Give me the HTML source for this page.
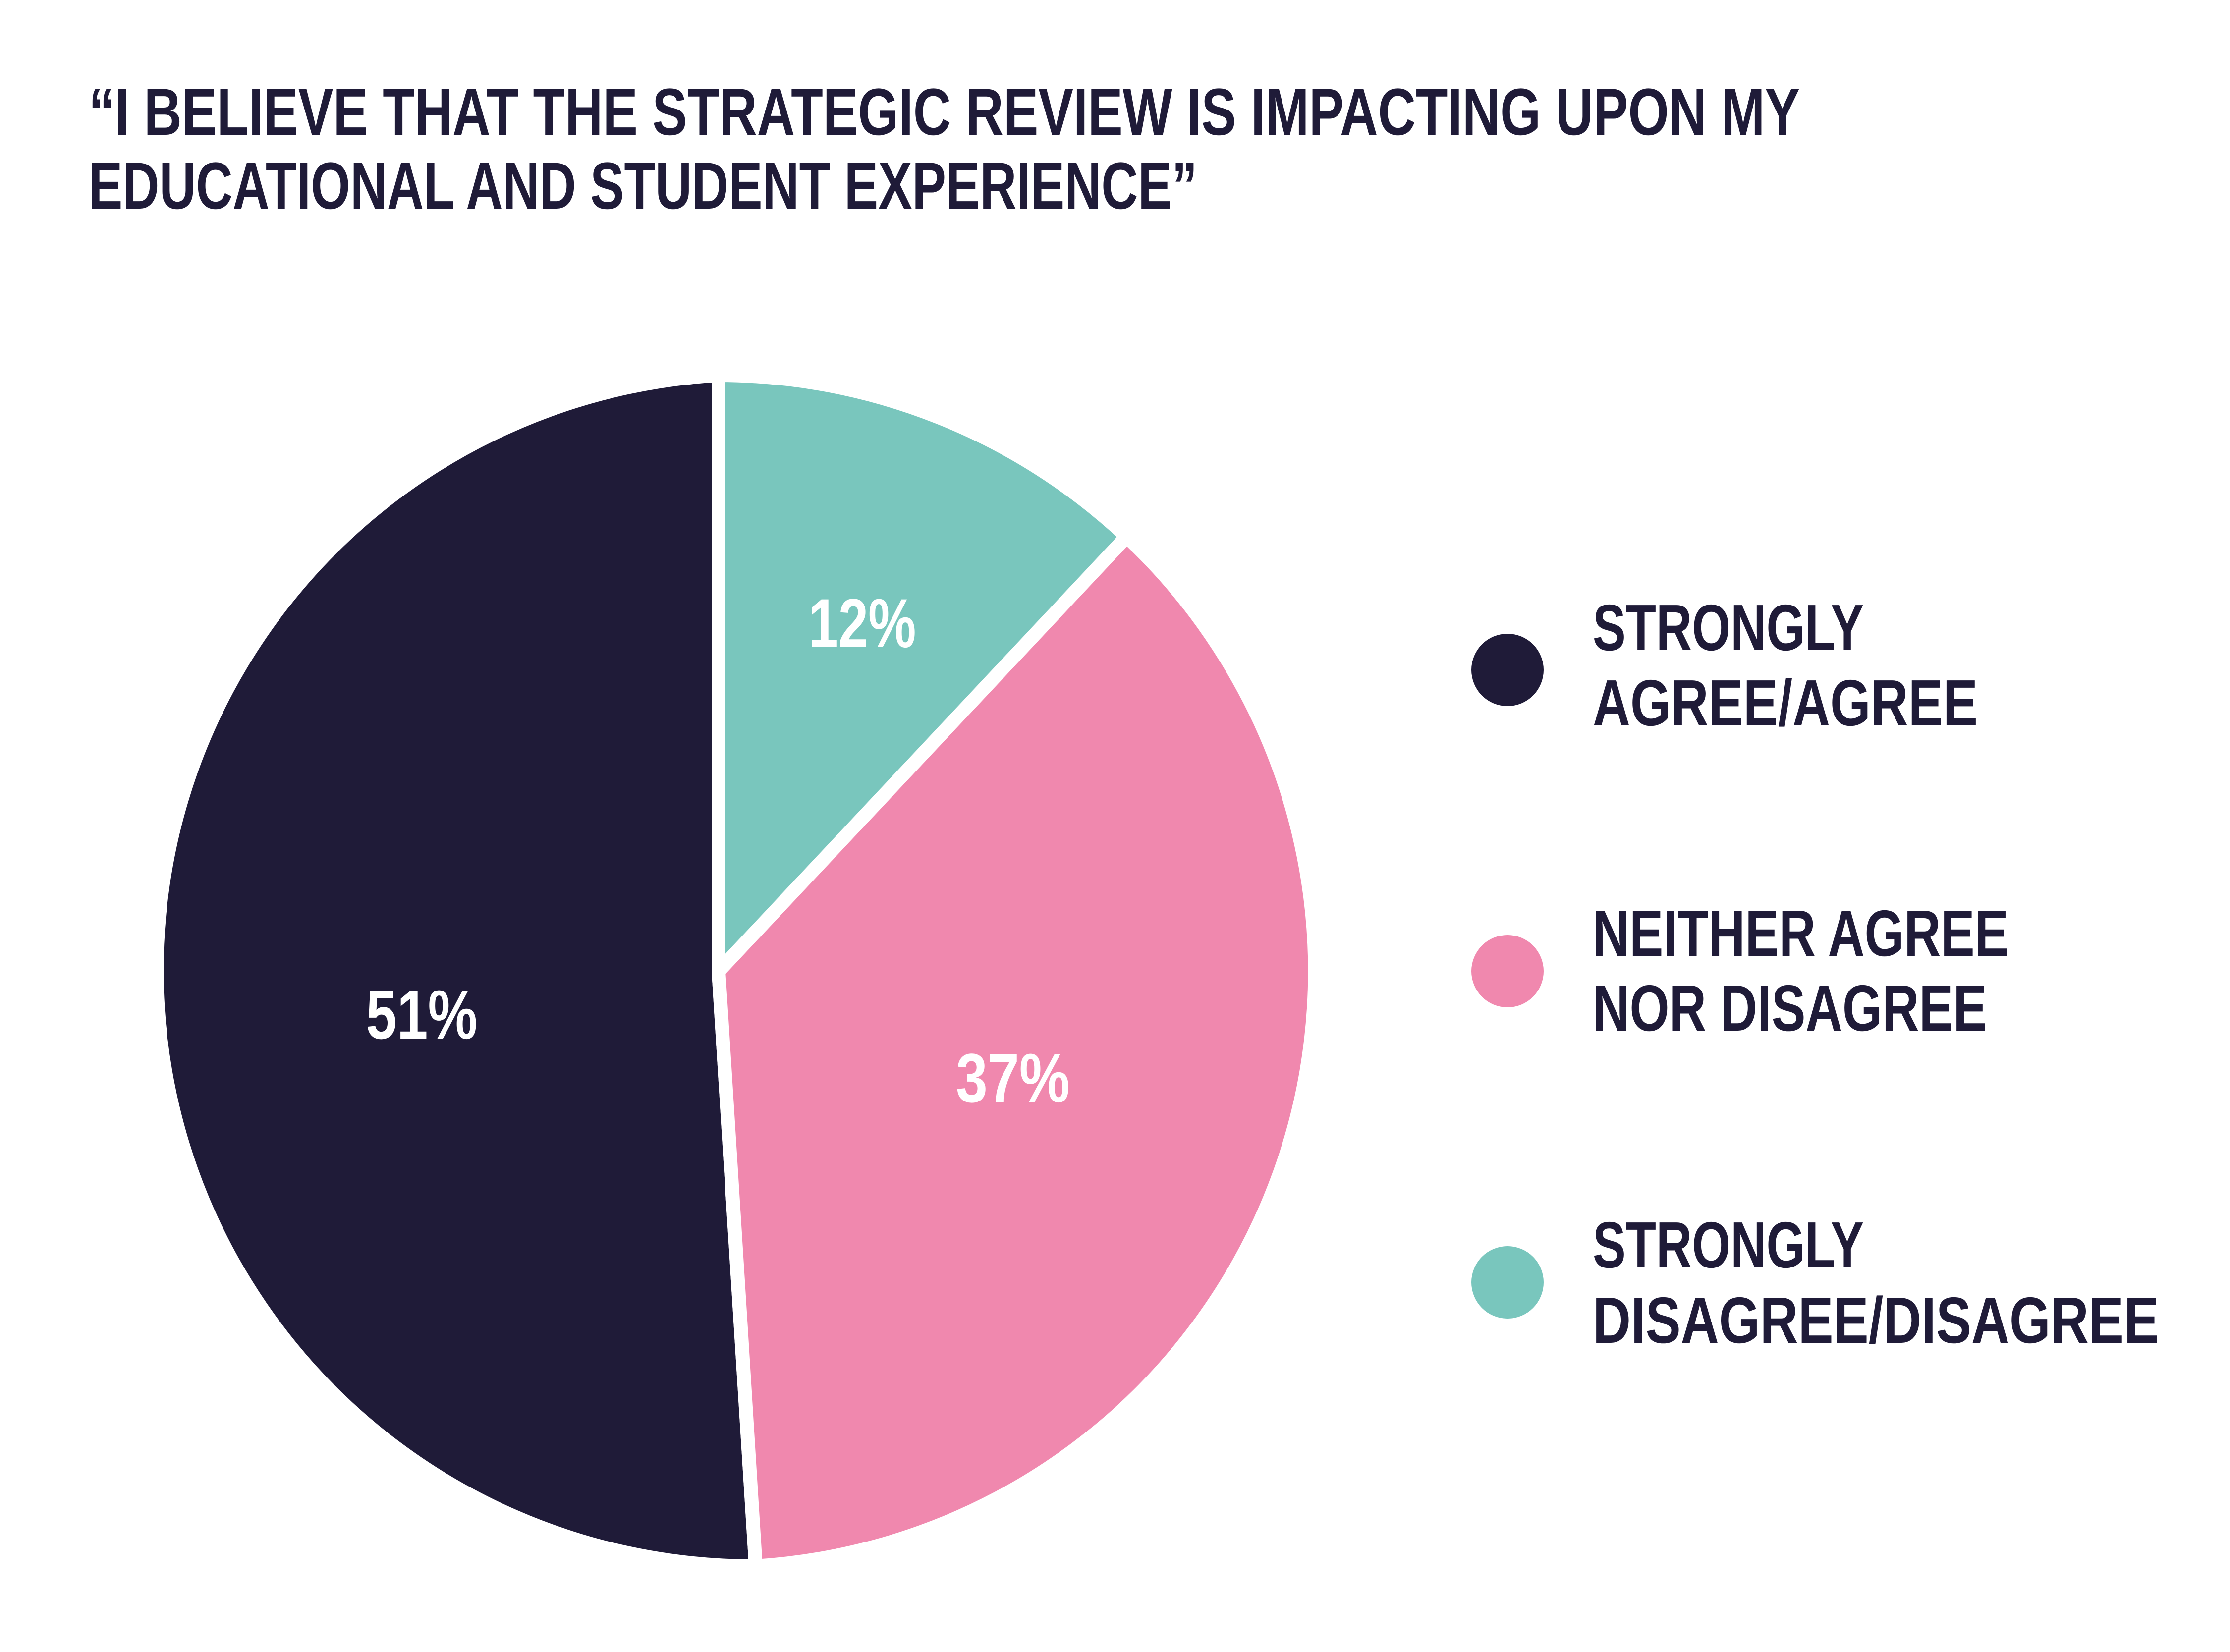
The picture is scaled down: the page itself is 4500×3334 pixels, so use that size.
<!DOCTYPE html>
<html><head><meta charset="utf-8"><style>
html,body{margin:0;padding:0;background:#fff;}
svg{display:block;}
text{font-family:"Liberation Sans",sans-serif;font-weight:bold;}
</style></head><body>
<svg width="4500" height="3334" viewBox="0 0 4500 3334" xmlns="http://www.w3.org/2000/svg">
<rect width="4500" height="3334" fill="#fff"/>
<g fill="#1f1b38">
<text x="179" y="272" font-size="134" textLength="3453" lengthAdjust="spacingAndGlyphs">“I BELIEVE THAT THE STRATEGIC REVIEW IS IMPACTING UPON MY</text>
<text x="179" y="421" font-size="134" textLength="2237" lengthAdjust="spacingAndGlyphs">EDUCATIONAL AND STUDENT EXPERIENCE”</text>
</g>
<g stroke="#fff" stroke-width="28" stroke-linejoin="round">
<path d="M1450,1960 L1525,3161 A1203,1203 0 0 1 1450,757 Z" fill="#1f1b38"/>
<path d="M1450,1960 L2273.5,1083 A1203,1203 0 0 1 1525,3161 Z" fill="#f088ae"/>
<path d="M1450,1960 L1450,757 A1203,1203 0 0 1 2273.5,1083 Z" fill="#79c6bd"/>
</g>
<g fill="#fff" font-size="140" text-anchor="middle">
<text x="1740" y="1306" textLength="217" lengthAdjust="spacingAndGlyphs">12%</text>
<text x="851" y="2096" textLength="225" lengthAdjust="spacingAndGlyphs">51%</text>
<text x="2044" y="2224" textLength="230" lengthAdjust="spacingAndGlyphs">37%</text>
</g>
<circle cx="3042" cy="1352" r="73" fill="#1f1b38"/>
<circle cx="3042" cy="1960" r="73" fill="#f088ae"/>
<circle cx="3042" cy="2588" r="73" fill="#79c6bd"/>
<g fill="#1f1b38" font-size="132">
<text x="3214" y="1312" textLength="547" lengthAdjust="spacingAndGlyphs">STRONGLY</text>
<text x="3214" y="1464" textLength="777" lengthAdjust="spacingAndGlyphs">AGREE/AGREE</text>
<text x="3214" y="1929" textLength="839" lengthAdjust="spacingAndGlyphs">NEITHER AGREE</text>
<text x="3214" y="2080" textLength="796" lengthAdjust="spacingAndGlyphs">NOR DISAGREE</text>
<text x="3214" y="2558" textLength="547" lengthAdjust="spacingAndGlyphs">STRONGLY</text>
<text x="3214" y="2710" textLength="1143" lengthAdjust="spacingAndGlyphs">DISAGREE/DISAGREE</text>
</g>
</svg>
</body></html>
